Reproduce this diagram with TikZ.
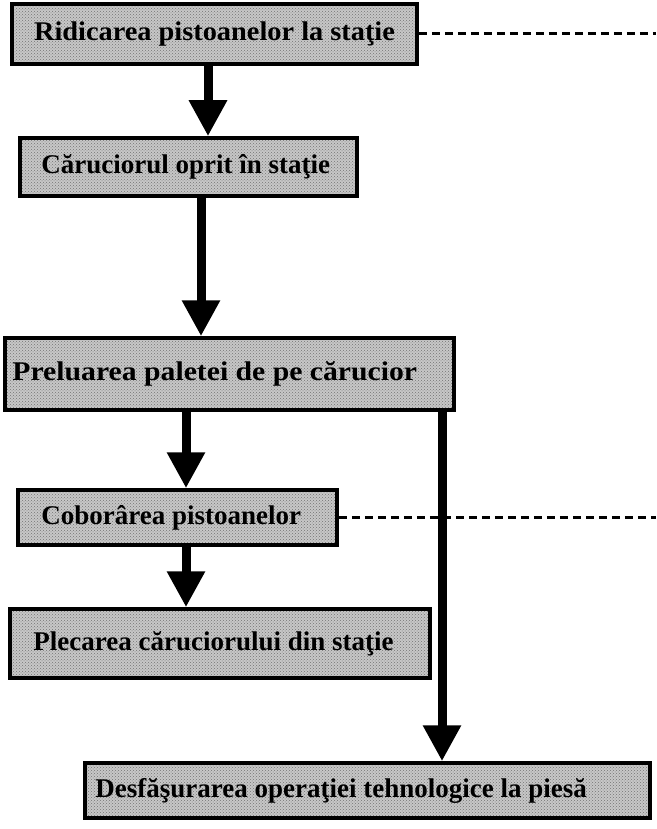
\documentclass[tikz,border=0pt]{standalone}
\usepackage{fontspec}
\setmainfont{Liberation Serif}
\usetikzlibrary{arrows.meta,patterns}
\begin{document}
\begin{tikzpicture}[x=1pt,y=-1pt,
  stage/.style={draw=black, line width=3.5pt, inner sep=0pt,
    preaction={fill=black!22}, pattern=crosshatch dots, pattern color=black!55},
  caption/.style={inner sep=0pt, font=\fontsize{27}{30}\selectfont\bfseries},
  flow/.style={line width=9pt, -{Triangle[width=36pt,length=36pt]}},
  link/.style={line width=3pt, dash pattern=on 8pt off 5pt}]
\useasboundingbox (0,0) rectangle (656,829);

% process stages (frames)
\node[stage, minimum width=405pt, minimum height=60pt] (b1) at (214.5,34) {};
\node[stage, minimum width=337pt, minimum height=58pt] (b2) at (188.5,167) {};
\node[stage, minimum width=449pt, minimum height=72pt] (b3) at (229.5,374) {};
\node[stage, minimum width=319pt, minimum height=55pt] (b4) at (177.5,517.5) {};
\node[stage, minimum width=420pt, minimum height=69pt] (b5) at (220,643.5) {};
\node[stage, minimum width=565pt, minimum height=55pt] (b6) at (367.5,790.5) {};

% stage captions
\node[caption] (t1) at (b1.center) {\scalebox{1.05}[1]{Ridicarea pistoanelor la staţie}};
\node[caption, anchor=west] (t2) at ([xshift=23pt]b2.west) {Căruciorul oprit în staţie};
\node[caption, anchor=west] (t3) at ([xshift=9pt]b3.west) {\scalebox{1.1}[1]{Preluarea paletei de pe cărucior}};
\node[caption, anchor=west] (t4) at ([xshift=25pt]b4.west) {Coborârea pistoanelor};
\node[caption, anchor=west] (t5) at ([xshift=25pt]b5.west) {Plecarea căruciorului din staţie};
\node[caption, anchor=west] (t6) at ([xshift=12pt]b6.west) {Desfăşurarea operaţiei tehnologice la piesă};

% x positions of the vertical flows
\coordinate (x1) at (208,0);
\coordinate (x2) at (201,0);
\coordinate (x3) at (186,0);
\coordinate (x4) at (442,0);

% dashed links leaving to the right
\coordinate (e1) at (656,0);
\draw[link] (b1.east) -- (b1.east -| e1);
\draw[link] (b4.east) -- (b4.east -| e1);

% flow arrows
\draw[flow] (b1.south -| x1) -- (b2.north -| x1);
\draw[flow] (b2.south -| x2) -- (b3.north -| x2);
\draw[flow] (b3.south -| x3) -- (b4.north -| x3);
\draw[flow] (b4.south -| x3) -- (b5.north -| x3);
\draw[flow] (b3.south -| x4) -- (b6.north -| x4);
\end{tikzpicture}
\end{document}
